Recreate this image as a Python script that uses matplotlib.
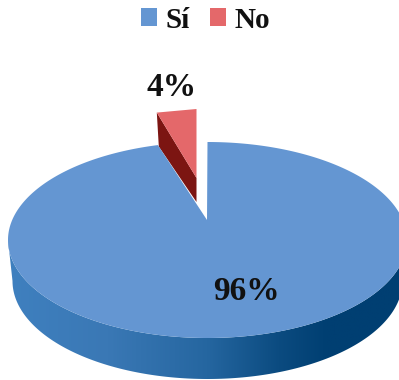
import numpy as np
import matplotlib
matplotlib.use("Agg")
import matplotlib.pyplot as plt
from matplotlib.patches import Polygon, Patch
from matplotlib.colors import LinearSegmentedColormap

categories = ["Sí", "No"]
shares = [96, 4]
labels = ["96%", "4%"]

BLUE = "#6496D2"
RED = "#E4686A"
RED_SIDE = "#7C1512"
FONT = "Liberation Serif"

# pie geometry in canvas pixels
cx, cy, rx, ry = 207.5, 240, 199.5, 98
depth = 41
base_rx = 195
apex = np.array([207.0, 220.0])
no_shift = np.array([-11.0, -33.0])
no_scale = 0.80
no_apex = np.array([196.5, 178.0])

fig = plt.figure(figsize=(3.99, 3.80), dpi=100)
ax = fig.add_axes([0, 0, 1, 1])
ax.set_xlim(0, 399)
ax.set_ylim(380, 0)
ax.axis("off")

def rim(angle, radius=rx):
    """Point on an ellipse; angle runs clockwise from 12 o'clock."""
    return np.column_stack([cx + radius * np.sin(angle), cy - ry * np.cos(angle)])

gap = 2 * np.pi * shares[1] / sum(shares)

# Exploded "No" slice: dark cut face first, then the red top with a flat outer edge
no_arc = rim(np.array([-gap, 0.0]))
no_arc = (no_arc - [cx, 0]) * [no_scale, 1] + [cx, 0] + no_shift
no_arc[0, 1] += 0.5
no_arc[1, 0] = no_apex[0]
left_rim = no_arc[0]
ax.add_patch(Polygon([left_rim, no_apex, no_apex + [0, 24], left_rim + [2, 34]],
                     closed=True, fc=RED_SIDE, ec="none", zorder=1))
ax.add_patch(Polygon(np.vstack([no_arc, no_apex]), closed=True, fc=RED, ec="none", zorder=2))

# Outer wall of the "Sí" slice with a left-to-right shading
theta = np.linspace(np.pi / 2, 3 * np.pi / 2, 200)
upper_edge = rim(theta)
lower_edge = rim(theta[::-1], base_rx) + [0, depth]
wall = Polygon(np.vstack([upper_edge, lower_edge]), closed=True, fc="none", ec="none")
ax.add_patch(wall)
wall_cmap = LinearSegmentedColormap.from_list(
    "wall", [(0, "#3F80BF"), (0.25, "#3A78B5"), (0.5, "#2566A0"),
             (0.68, "#0B4B80"), (0.8, "#003F72"), (1, "#003F72")])
shade = ax.imshow(np.linspace(0, 1, 256)[None, :], cmap=wall_cmap, aspect="auto",
                  extent=(cx - rx, cx + rx, 380, 200), zorder=3)
shade.set_clip_path(wall)
ax.set_xlim(0, 399)
ax.set_ylim(380, 0)

# Top face of the "Sí" slice
top_arc = rim(np.linspace(0, 2 * np.pi - gap, 400))
ax.add_patch(Polygon(np.vstack([top_arc, apex]), closed=True, fc=BLUE, ec="none", zorder=4))

text_style = dict(family=FONT, fontweight="bold", color="#111111", ha="center", va="center", zorder=5)
ax.text(246, 292, labels[0], fontsize=24, **text_style)
ax.text(172, 88, labels[1], fontsize=24, **text_style)

handles = [Patch(fc=BLUE, ec="none"), Patch(fc=RED, ec="none")]
fig.legend(handles, categories, loc="center", bbox_to_anchor=(205.5 / 399, 1 - 20 / 380),
           ncol=2, frameon=False, handlelength=0.55, handleheight=0.55, handletextpad=0.3,
           columnspacing=0.7, borderpad=0,
           prop={"family": FONT, "weight": "bold", "size": 21}, labelcolor="#111111")

fig.savefig("out.png", dpi=100)
